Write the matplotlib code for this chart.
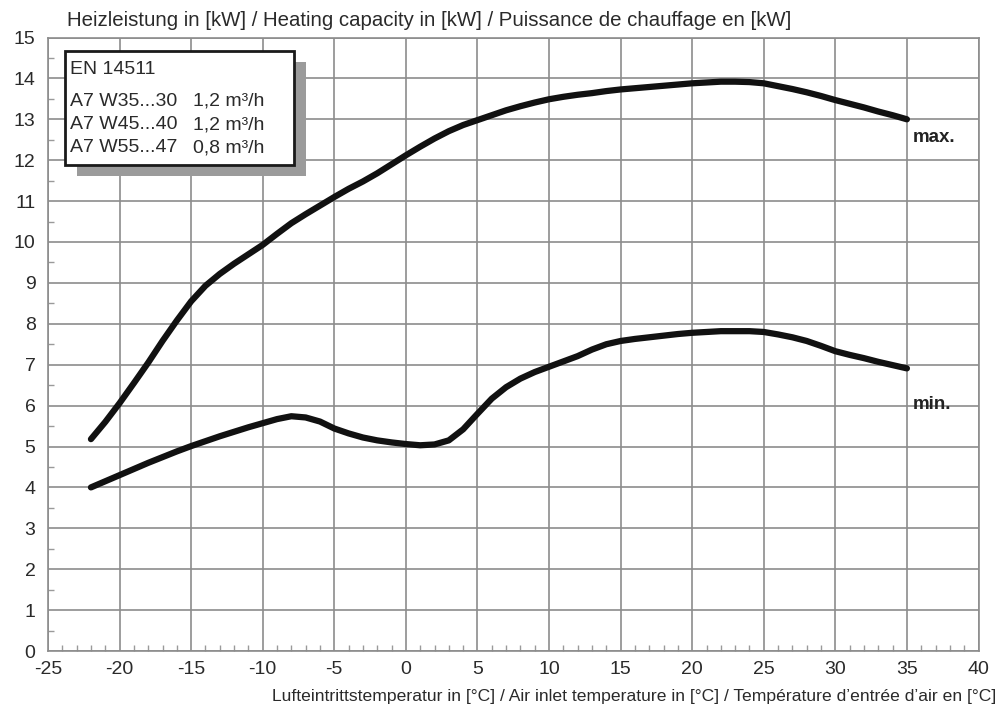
import matplotlib
matplotlib.use("Agg")
import matplotlib.pyplot as plt
from matplotlib.ticker import MultipleLocator
from matplotlib.patches import Rectangle

plt.rcParams['font.family'] = ['Liberation Sans', 'DejaVu Sans']
plt.rcParams['axes.unicode_minus'] = False

# data (one reading per degree)
max_x = list(range(-22, 36))
max_y = [5.18, 5.6, 6.06, 6.55, 7.05, 7.58, 8.08, 8.55, 8.93, 9.22, 9.47, 9.7, 9.93, 10.2, 10.46, 10.68,
         10.89, 11.1, 11.3, 11.48, 11.68, 11.9, 12.12, 12.33, 12.53, 12.71, 12.86, 12.98, 13.1, 13.22,
         13.32, 13.41, 13.49, 13.55, 13.6, 13.64, 13.69, 13.73, 13.76, 13.79, 13.82, 13.85, 13.88,
         13.9, 13.92, 13.92, 13.91, 13.88, 13.81, 13.74, 13.66, 13.57, 13.47, 13.38, 13.29, 13.19,
         13.1, 13.0]

min_x = list(range(-22, 36))
min_y = [4.0, 4.15, 4.3, 4.45, 4.6, 4.74, 4.88, 5.01, 5.13, 5.25, 5.36, 5.47, 5.57, 5.67, 5.74, 5.71,
         5.61, 5.44, 5.32, 5.22, 5.15, 5.1, 5.06, 5.03, 5.05, 5.15, 5.42, 5.8, 6.17, 6.45, 6.66, 6.82,
         6.95, 7.08, 7.21, 7.37, 7.5, 7.58, 7.63, 7.67, 7.71, 7.75, 7.78, 7.8, 7.82, 7.82, 7.82, 7.8,
         7.74, 7.67, 7.58, 7.46, 7.33, 7.24, 7.16, 7.07, 6.99, 6.91]

x_ticks = list(range(-25, 41, 5))
y_ticks = list(range(0, 16))

title = "Heizleistung in [kW] / Heating capacity in [kW] / Puissance de chauffage en [kW]"
xlabel = "Lufteintrittstemperatur in [°C] / Air inlet temperature in [°C] / Température d’entrée d’air en [°C]"
legend_lines = [("A7 W35...30", "1,2 m³/h"), ("A7 W45...40", "1,2 m³/h"), ("A7 W55...47", "0,8 m³/h")]
legend_title = "EN 14511"

W, H = 998, 711
fig = plt.figure(figsize=(W / 100, H / 100), dpi=100)
ax = fig.add_axes([48 / W, 1 - 651 / H, (978.5 - 48) / W, (651 - 37.5) / H])

grid_c = '#8c8c8c'
txt_c = '#2a2a2a'
ax.set_xlim(-25, 40)
ax.set_ylim(0, 15)
ax.set_xticks(x_ticks)
ax.set_yticks(y_ticks)
ax.xaxis.set_minor_locator(MultipleLocator(1))
ax.yaxis.set_minor_locator(MultipleLocator(0.5))
ax.grid(True, which='major', color=grid_c, linewidth=1.2)
ax.set_axisbelow(True)
ax.tick_params(which='major', length=0, labelsize=14, labelcolor=txt_c, pad=9)
ax.tick_params(axis='x', which='major', pad=7)
ax.tick_params(which='minor', direction='in', length=4, color='#9a9a9a', width=1)
for s in ax.spines.values():
    s.set_color(grid_c)
    s.set_linewidth(1.2)

ax.plot(max_x, max_y, color='#111111', linewidth=4.5, solid_capstyle='round', solid_joinstyle='round', zorder=3)
ax.plot(min_x, min_y, color='#111111', linewidth=4.5, solid_capstyle='round', solid_joinstyle='round', zorder=3)

ax.text(max_x[-1] + 0.4, max_y[-1] - 0.45, "max.", fontsize=13.5, fontweight='bold', color='#222222', va='center', ha='left')
ax.text(min_x[-1] + 0.4, min_y[-1] - 0.88, "min.", fontsize=13.5, fontweight='bold', color='#222222', va='center', ha='left')

def fx(px):
    return px / W
def fy(py):
    return 1 - py / H

shadow = Rectangle((fx(77), fy(176)), (306 - 77) / W, (176 - 62) / H, transform=fig.transFigure,
                   facecolor='#9b9b9b', edgecolor='none', zorder=5)
box = Rectangle((fx(65), fy(164.5)), (294 - 65) / W, (164.5 - 51) / H, transform=fig.transFigure,
                facecolor='white', edgecolor='#1a1a1a', linewidth=2, zorder=6)
fig.patches.extend([shadow, box])

fig.text(fx(70), fy(70), legend_title, fontsize=14, color=txt_c, va='center', ha='left', zorder=7)
for i, (a, b) in enumerate(legend_lines):
    yy = fy(101.5 + 23.2 * i)
    fig.text(fx(70), yy, a, fontsize=14, color=txt_c, va='center', ha='left', zorder=7)
    fig.text(fx(193), yy, b, fontsize=14, color=txt_c, va='center', ha='left', zorder=7)

fig.text(fx(67), fy(20), title, fontsize=14.7, color=txt_c, va='center', ha='left')
fig.text(fx(996), fy(697), xlabel, fontsize=12.6, color=txt_c, va='center', ha='right')

fig.savefig("out.png", dpi=100)
